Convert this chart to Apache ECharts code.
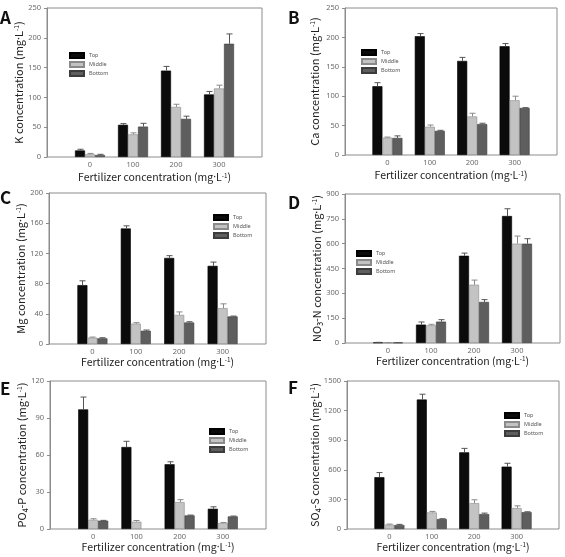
<!DOCTYPE html>
<html>
<head>
<meta charset="utf-8">
<script src="https://cdn.jsdelivr.net/npm/echarts@6/dist/echarts.min.js"></script>
<style>
  html,body{margin:0;padding:0;background:#fff}
  #c{width:565px;height:557px}
</style>
</head>
<body>
<div id="c"></div>
<script>
// fertilizer doses (x categories)
const dose = [0, 100, 200, 300];
const layers = ['Top', 'Middle', 'Bottom'];

// means per panel, rows = Top / Middle / Bottom (null = no bar)
const kMean   = [[11, 54, 145, 105], [4.5, 38, 84, 115], [3.3, 51, 64, 190]];
const kErr    = [[2, 2, 7, 5], [1.5, 2.5, 4.5, 5.5], [1.2, 5.5, 4.5, 16.5]];
const caMean  = [[117, 202, 160, 185], [29.5, 48, 65.5, 93], [29, 41, 52.5, 80]];
const caErr   = [[6, 4.5, 6, 4.5], [1, 3, 5.5, 7], [3.5, 1, 1.5, 0.5]];
const mgMean  = [[78, 153, 114, 103.5], [8.4, 27, 38.5, 47.5], [7.5, 17.5, 28.5, 36.5]];
const mgErr   = [[5.7, 3.5, 3, 5], [0.8, 1.3, 4, 5.7], [0.8, 1, 1, 0.5]];
const no3Mean = [[3, 111, 527, 767], [2, 107, 352, 600], [2, 129, 248, 600]];
const no3Err  = [[1, 16, 16, 44], [1, 6, 28, 46], [1, 12, 14, 30]];
const po4Mean = [[97, 66.5, 52.5, 16.4], [7.5, 5.9, 21.8, 4.8], [6.7, null, 11, 10.2]];
const po4Err  = [[10, 4.6, 2, 1.6], [0.8, 1, 2, 0.5], [0.3, 0, 0.3, 0.3]];
const so4Mean = [[525, 1312, 777, 632], [44, 168, 262, 212], [40, 101, 151, 171]];
const so4Err  = [[47, 54, 40, 34], [6, 10, 34, 23], [7, 3, 10, 3.5]];

// y-axis ranges / tick step per panel
const yMax  = [250, 250, 200, 900, 120, 1500];
const yStep = [50, 50, 40, 150, 30, 300];
const UNIT = ' (mg{d|·}L{s|-1})';
const yTitles = [
  'K concentration' + UNIT,
  'Ca concentration' + UNIT,
  'Mg concentration' + UNIT,
  'NO₃-N concentration' + UNIT,
  'PO₄-P concentration' + UNIT,
  'SO₄-S concentration' + UNIT
];
const xTitle = 'Fertilizer concentration' + UNIT;
const letters = ['A', 'B', 'C', 'D', 'E', 'F'];
const means = [kMean, caMean, mgMean, no3Mean, po4Mean, so4Mean];
const errs  = [kErr, caErr, mgErr, no3Err, po4Err, so4Err];

// ---- layout (px) ----
const PANEL = [
  { l: 47,  t: 8,   w: 215, h: 149, yGap: 20, xGap: 15, lg: [69, 52],  let: [0, 9] },
  { l: 345, t: 8,   w: 212, h: 147, yGap: 25, xGap: 15, lg: [361, 49], let: [288, 9] },
  { l: 49,  t: 193, w: 217, h: 151, yGap: 22, xGap: 11, lg: [213, 214], let: [0, 189] },
  { l: 345, t: 194, w: 215, h: 149, yGap: 22, xGap: 12, lg: [356, 250], let: [288, 194] },
  { l: 50,  t: 381, w: 216, h: 148, yGap: 23, xGap: 12, lg: [209, 428], let: [0, 380] },
  { l: 347, t: 381, w: 212, h: 148, yGap: 27, xGap: 12, lg: [504, 412], let: [288, 379] }
];
const FILL = ['#0b0b0b', '#c3c3c3', '#5e5e5e'];
const EDGE = ['#000', '#8a8a8a', '#3c3c3c'];
const ERRC = ['#555', '#8a8a8a', '#555'];
const FRAME = '#8c8c8c';
const BAR_W = 10;
const TITLE_FONT = "'Noto Sans CJK KR', 'Noto Sans', sans-serif";
const TICK_FONT = "'Noto Sans', sans-serif";
const nameStyle = (size) => ({ fontFamily: TITLE_FONT, fontSize: size, color: '#222',
  rich: {
    d: { fontFamily: TICK_FONT, fontSize: size, color: '#222' },
    s: { fontFamily: TITLE_FONT, fontSize: size * 0.6, color: '#222', verticalAlign: 'top' }
  } });

const grid = [], xAxis = [], yAxis = [], series = [], legend = [], title = [];

PANEL.forEach((p, i) => {
  grid.push({ left: p.l, top: p.t, width: p.w, height: p.h, show: true,
    borderColor: FRAME, borderWidth: 1, backgroundColor: 'transparent', containLabel: false });

  xAxis.push({
    gridIndex: i, type: 'value', min: -100, max: 400, interval: 100,
    axisLine: { show: false, onZero: false }, axisTick: { show: false }, splitLine: { show: false },
    axisLabel: { margin: 4, color: '#6a6a6a', fontSize: 7.5, fontFamily: TICK_FONT,
      formatter: v => (v < 0 || v > 300) ? '' : String(v) },
    name: xTitle, nameLocation: 'middle', nameGap: p.xGap, nameTextStyle: nameStyle(10.5)
  });

  yAxis.push({
    gridIndex: i, type: 'value', min: 0, max: yMax[i], interval: yStep[i],
    axisLine: { show: true, onZero: false, lineStyle: { color: FRAME } },
    axisTick: { show: true, length: 3, lineStyle: { color: FRAME } },
    splitLine: { show: false },
    axisLabel: { margin: 6, color: '#6a6a6a', fontSize: 7.5, fontFamily: TICK_FONT,
      formatter: v => String(v) },
    name: yTitles[i], nameLocation: 'middle', nameGap: p.yGap, nameTextStyle: nameStyle(11)
  });

  layers.forEach((name, k) => {
    series.push({
      type: 'bar', name, xAxisIndex: i, yAxisIndex: i,
      barWidth: BAR_W, barGap: '0%',
      itemStyle: { color: FILL[k], borderColor: EDGE[k], borderWidth: 0.6 },
      data: dose.map((d, j) => [d, means[i][k][j]]),
      animation: false
    });
  });

  // error bars (upper cap only) built from the mean/err arrays
  const ebData = [];
  layers.forEach((name, k) => dose.forEach((d, j) => {
    if (errs[i][k][j] > 0 && means[i][k][j] != null) ebData.push([d, means[i][k][j], errs[i][k][j], k]);
  }));
  series.push({
    type: 'custom', xAxisIndex: i, yAxisIndex: i, silent: true, z: 3,
    data: ebData, animation: false,
    renderItem: (params, api) => {
      const k = api.value(3);
      const base = api.coord([api.value(0), api.value(1)]);
      const top = api.coord([api.value(0), api.value(1) + api.value(2)]);
      const x = Math.round(base[0] + (k - 1) * BAR_W) + 0.5;
      const st = { stroke: ERRC[k], lineWidth: 1 };
      return { type: 'group', children: [
        { type: 'line', shape: { x1: x, y1: base[1], x2: x, y2: top[1] }, style: st },
        { type: 'line', shape: { x1: x - 3, y1: top[1], x2: x + 3, y2: top[1] }, style: st }
      ] };
    }
  });

  legend.push({
    orient: 'vertical', left: p.lg[0], top: p.lg[1], padding: 0,
    itemWidth: 14, itemHeight: 5, itemGap: 2, icon: 'rect',
    data: layers, selectedMode: false,
    textStyle: { fontSize: 5.5, color: '#555', fontFamily: TICK_FONT, lineHeight: 6 }
  });

  title.push({
    text: letters[i], left: p.let[0], top: p.let[1], padding: 0,
    textStyle: { fontSize: 17, fontWeight: 'bold', color: '#111', fontFamily: TITLE_FONT }
  });
});

const chart = echarts.init(document.getElementById('c'), null, { renderer: 'canvas' });
chart.setOption({ animation: false, title, grid, xAxis, yAxis, legend, series });
</script>
</body>
</html>
